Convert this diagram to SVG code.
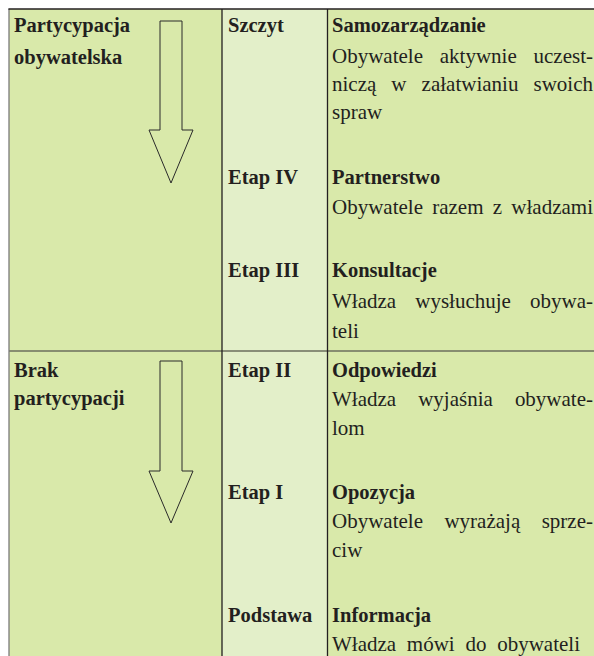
<svg xmlns="http://www.w3.org/2000/svg" width="594" height="656" viewBox="0 0 594 656">
<style>
.b{font-family:"Liberation Serif","Times New Roman",serif;font-weight:bold;font-size:20.5px;fill:#231f20}
.r{font-family:"Liberation Serif","Times New Roman",serif;font-size:21px;fill:#231f20}
.arrow{fill:none;stroke:#2a2a2a;stroke-width:1}
.grid{stroke:#231f20;stroke-width:1.3;fill:none}
</style>
<rect x="0" y="0" width="594" height="656" fill="#ffffff"/>
<g id="table">
<rect x="9" y="9" width="213" height="647" fill="#d9e9aa"/>
<rect x="222" y="9" width="105.5" height="647" fill="#e3efc9"/>
<rect x="327.5" y="9" width="266.5" height="647" fill="#d9e9aa"/>
<line x1="9" y1="351" x2="594" y2="351" stroke="#6b6e5c" stroke-width="1.6"/>
<line x1="9" y1="9" x2="9" y2="656" stroke="#7a7a7a" stroke-width="1.3"/>
<line class="grid" x1="8.4" y1="9" x2="594" y2="9"/>
<line class="grid" x1="222" y1="9" x2="222" y2="656"/>
<line class="grid" x1="327.5" y1="9" x2="327.5" y2="656"/>
</g>
<g id="group-participation">
<text class="b" x="14" y="32">Partycypacja</text>
<text class="b" x="14" y="64">obywatelska</text>
</g>
<g id="group-no-participation">
<text class="b" x="14" y="377">Brak</text>
<text class="b" x="14" y="405">partycypacji</text>
</g>
<g id="connectors">
<polygon class="arrow" points="160,21 182,21 182,130 193,130 171,183 149,130 160,130"/>
<polygon class="arrow" points="160,361 182,361 182,471 193,471 171,523 149,471 160,471"/>
</g>
<g id="stage-szczyt">
<text class="b" x="228" y="32">Szczyt</text>
<text class="b" x="332" y="32">Samozarządzanie</text>
<text class="r" x="332" y="63" word-spacing="11.5" textLength="261" lengthAdjust="spacing">Obywatele aktywnie uczest-</text>
<text class="r" x="332" y="91" word-spacing="9.8" textLength="261" lengthAdjust="spacing">niczą w załatwianiu swoich</text>
<text class="r" x="332" y="119">spraw</text>
</g>
<g id="stage-etap-iv">
<text class="b" x="228" y="184">Etap IV</text>
<text class="b" x="332" y="184">Partnerstwo</text>
<text class="r" x="332" y="214" word-spacing="4" textLength="261" lengthAdjust="spacing">Obywatele razem z władzami</text>
</g>
<g id="stage-etap-iii">
<text class="b" x="228" y="277">Etap III</text>
<text class="b" x="332" y="277">Konsultacje</text>
<text class="r" x="332" y="308" word-spacing="13.9" textLength="261" lengthAdjust="spacing">Władza wysłuchuje obywa-</text>
<text class="r" x="332" y="338">teli</text>
</g>
<g id="stage-etap-ii">
<text class="b" x="228" y="377">Etap II</text>
<text class="b" x="332" y="377">Odpowiedzi</text>
<text class="r" x="332" y="406" word-spacing="16.8" textLength="261" lengthAdjust="spacing">Władza wyjaśnia obywate-</text>
<text class="r" x="332" y="435">lom</text>
</g>
<g id="stage-etap-i">
<text class="b" x="228" y="499">Etap I</text>
<text class="b" x="332" y="499">Opozycja</text>
<text class="r" x="332" y="528" word-spacing="16.2" textLength="261" lengthAdjust="spacing">Obywatele wyrażają sprze-</text>
<text class="r" x="332" y="557">ciw</text>
</g>
<g id="stage-podstawa">
<text class="b" x="228" y="622">Podstawa</text>
<text class="b" x="332" y="622">Informacja</text>
<text class="r" x="332" y="651" word-spacing="5.5" textLength="248" lengthAdjust="spacing">Władza mówi do obywateli</text>
</g>
</svg>
